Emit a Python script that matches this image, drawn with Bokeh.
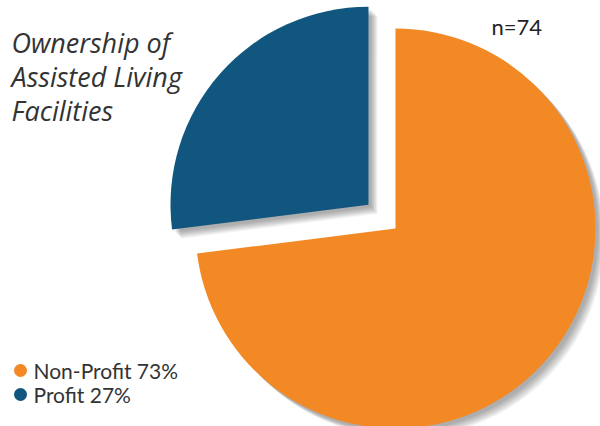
import math
from bokeh.plotting import figure
from bokeh.models import Range1d
from bokeh.core.properties import value
from bokeh.embed import file_html
from bokeh.resources import INLINE

categories = ["Non-Profit", "Profit"]
values = [73, 27]
colors = ["#F28924", "#10567E"]
title_lines = ["Ownership of", "Assisted Living", "Facilities"]
n_label = "n=74"

W, H = 600, 426
p = figure(width=W, height=H, output_backend="svg", toolbar_location=None,
           x_range=Range1d(0, W), y_range=Range1d(0, H), min_border=0)
p.axis.visible = False
p.grid.visible = False
p.outline_line_color = None
p.background_fill_color = "white"

# geometry (page pixel coords, y up: 426 - screen y)
cx, cy = 395, 198
explode = [0, 36]
r_list = [200, 198]

total = sum(values)
wedges = []
for i, v in enumerate(values):
    sweep = 360.0 * v / total
    if i == 0:
        s, e = 90.0 - sweep, 90.0  # clockwise from top
    else:
        s, e = 90.0, 90.0 + sweep
    mid = math.radians((s + e) / 2)
    ox = cx + explode[i] * math.cos(mid)
    oy = cy + explode[i] * math.sin(mid)
    wedges.append((ox, oy, r_list[i], math.radians(s), math.radians(e), colors[i]))

# soft shadows
for (ox, oy, rr, s, e, c) in wedges:
    for k in range(1, 10):
        p.wedge(x=ox + 2 + k * 0.8, y=oy - 2 - k * 0.8, radius=rr, start_angle=s, end_angle=e,
                fill_color="black", fill_alpha=0.04, line_color=None)

for (ox, oy, rr, s, e, c) in wedges:
    p.wedge(x=ox, y=oy, radius=rr, start_angle=s, end_angle=e,
            fill_color=c, line_color=None)

# title
for j, t in enumerate(title_lines):
    p.text(x=[11], y=[H - 23 - j * 34], text=[t], text_font=value("Open Sans"),
           text_font_style="italic", text_font_size="27px", text_color="#333333",
           text_baseline="top", text_align="left")

p.text(x=[491], y=[H - 12], text=[n_label], text_font=value("Lato"),
       text_font_size="22px", text_color="#222222", text_baseline="top")

# legend
for j, (cat, v) in enumerate(zip(categories, values)):
    yy = H - 370 - j * 24
    p.scatter(x=[20], y=[yy], size=13, marker="circle", fill_color=colors[j], line_color=None)
    p.text(x=[33], y=[yy], text=[f"{cat} {v}%"], text_font=value("Lato"),
           text_font_size="21px", text_color="#333333", text_baseline="middle")

open("out.html", "w").write(file_html(p, INLINE))
